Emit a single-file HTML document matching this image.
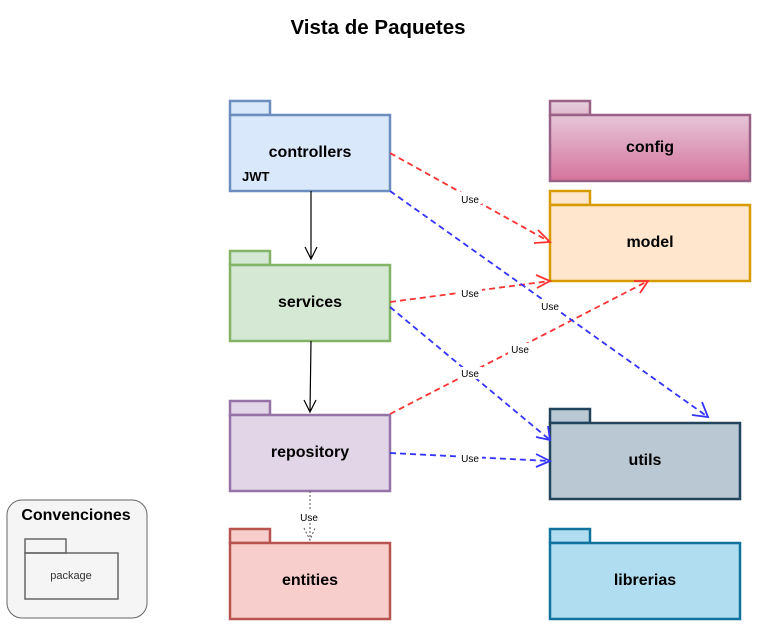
<!DOCTYPE html>
<html><head><style>body{margin:0;background:#fff}svg{display:block}text{font-family:"Liberation Sans",sans-serif}</style></head><body>
<svg width="763" height="641" xmlns="http://www.w3.org/2000/svg">
<defs>
<linearGradient id="g" x1="0" y1="0" x2="0" y2="1"><stop offset="0" stop-color="#e6c6d8"/><stop offset="1" stop-color="#d5739d"/></linearGradient>
<linearGradient id="g2" x1="0" y1="0" x2="0" y2="1"><stop offset="0" stop-color="#e6d0de"/><stop offset="1" stop-color="#e0b8cc"/></linearGradient>
</defs>
<text x="378" y="34" font-size="20.5" font-weight="bold" text-anchor="middle">Vista de Paquetes</text>
<g stroke-width="2.5">
<rect x="230" y="101" width="40" height="14" fill="#dae8fc" stroke="#6c8ebf"/><rect x="230" y="115" width="160" height="76" fill="#dae8fc" stroke="#6c8ebf"/>
<rect x="230" y="251" width="40" height="14" fill="#d5e8d4" stroke="#82b366"/><rect x="230" y="265" width="160" height="76" fill="#d5e8d4" stroke="#82b366"/>
<rect x="230" y="401" width="40" height="14" fill="#e1d5e7" stroke="#9673a6"/><rect x="230" y="415" width="160" height="76" fill="#e1d5e7" stroke="#9673a6"/>
<rect x="230" y="529" width="40" height="14" fill="#f8cecc" stroke="#b85450"/><rect x="230" y="543" width="160" height="76" fill="#f8cecc" stroke="#b85450"/>
<rect x="550" y="101" width="40" height="14" fill="url(#g2)" stroke="#996185"/><rect x="550" y="115" width="200" height="66" fill="url(#g)" stroke="#996185"/>
<rect x="550" y="191" width="40" height="14" fill="#ffe6cc" stroke="#d79b00"/><rect x="550" y="205" width="200" height="76" fill="#ffe6cc" stroke="#d79b00"/>
<rect x="550" y="409" width="40" height="14" fill="#bac8d3" stroke="#23445d"/><rect x="550" y="423" width="190" height="76" fill="#bac8d3" stroke="#23445d"/>
<rect x="550" y="529" width="40" height="14" fill="#b1ddf0" stroke="#10739e"/><rect x="550" y="543" width="190" height="76" fill="#b1ddf0" stroke="#10739e"/>
</g>
<g font-size="16" font-weight="bold" text-anchor="middle">
<text x="310" y="157">controllers</text><text x="310" y="307">services</text><text x="310" y="457">repository</text><text x="310" y="585">entities</text>
<text x="650" y="152">config</text><text x="650" y="247">model</text><text x="645" y="465">utils</text><text x="645" y="585">librerias</text>
</g>
<text x="242" y="181" font-size="13" font-weight="bold">JWT</text>
<rect x="7" y="500" width="140" height="118" rx="15" fill="#f5f5f5" stroke="#666"/>
<text x="76" y="520" font-size="16" font-weight="bold" text-anchor="middle">Convenciones</text>
<g stroke="#666" stroke-width="1.5" fill="none"><rect x="25" y="539" width="41" height="14"/><rect x="25" y="553" width="93" height="46"/></g>
<text x="71" y="579" font-size="11" text-anchor="middle" fill="#333">package</text>
<g fill="none" stroke-width="1.2" stroke="#000">
<path d="M311 191V259M305 247l6 12 6-12"/>
<path d="M311 341L310 412M304 400l6 12 6-12"/>
</g>
<path d="M310 491V540M304 528l6 12 5-12" fill="none" stroke="#555" stroke-dasharray="2 2"/>
<g fill="none" stroke="#ff3333" stroke-width="1.8" stroke-dasharray="6 4">
<path d="M390 153L550 242"/><path d="M390 302L550 281"/><path d="M390 414L648 281"/>
</g>
<g fill="none" stroke="#ff3333" stroke-width="1.8">
<path d="M538 230L550 242 534 243"/><path d="M536 275L550 281 537 288"/><path d="M634 281H648L640 293"/>
</g>
<g fill="none" stroke="#3333ff" stroke-width="1.8" stroke-dasharray="6 4">
<path d="M390 191L708 417"/><path d="M390 307L550 440"/><path d="M390 453L550 461"/>
</g>
<g fill="none" stroke="#3333ff" stroke-width="1.8">
<path d="M692 415L708 417 702 402"/><path d="M536 437L550 440 548 426"/><path d="M536 454L550 461 536 467"/>
</g>
<g font-size="10" text-anchor="middle">
<rect x="458" y="192" width="24" height="12" fill="#fff"/><text x="470" y="203">Use</text>
<rect x="458" y="287" width="24" height="12" fill="#fff"/><text x="470" y="297">Use</text>
<rect x="508" y="343" width="24" height="12" fill="#fff"/><text x="520" y="353">Use</text>
<rect x="538" y="300" width="24" height="12" fill="#fff"/><text x="550" y="310">Use</text>
<rect x="458" y="367" width="24" height="12" fill="#fff"/><text x="470" y="377">Use</text>
<rect x="458" y="452" width="24" height="12" fill="#fff"/><text x="470" y="462">Use</text>
<rect x="298" y="511" width="24" height="12" fill="#fff"/><text x="309" y="521">Use</text>
</g>
</svg>
</body></html>
